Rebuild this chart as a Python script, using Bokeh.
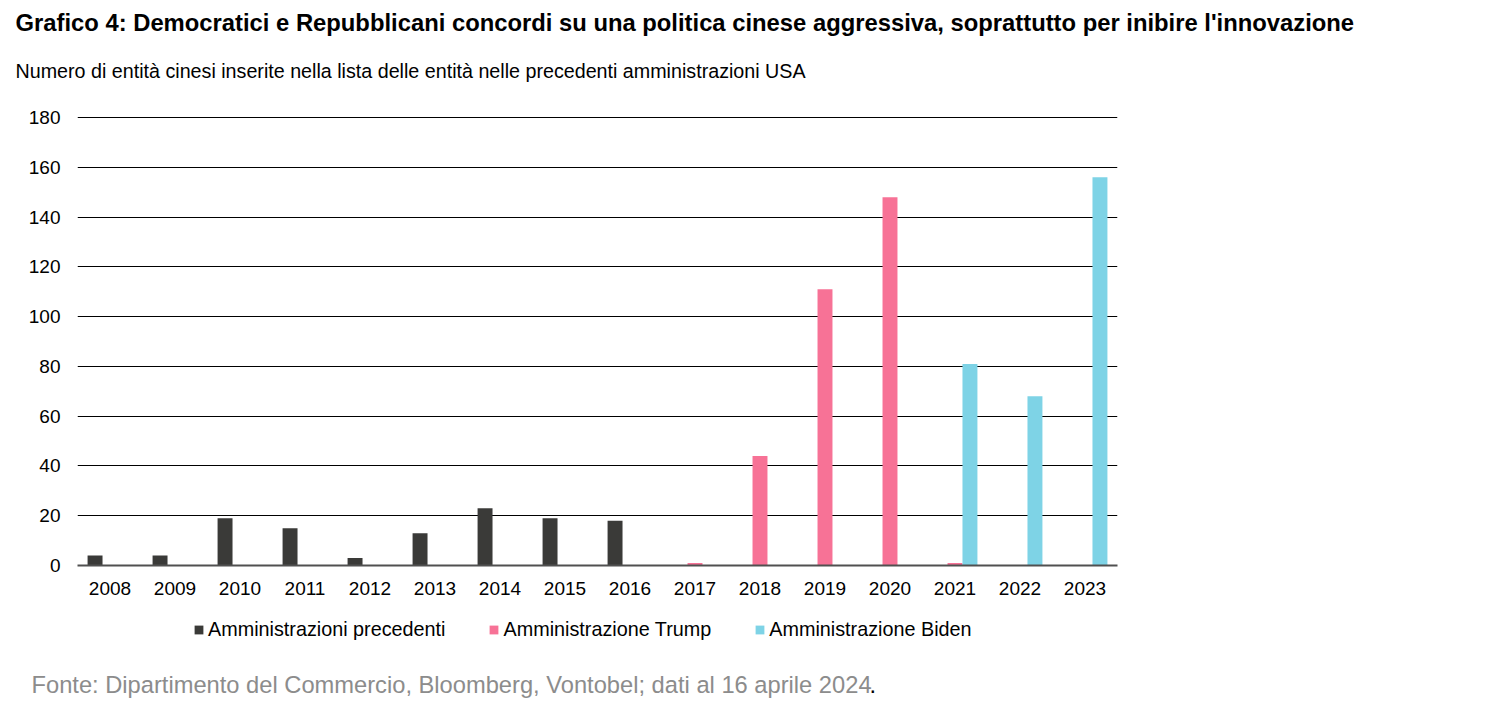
from bokeh.plotting import figure
from bokeh.models import Legend, LegendItem, FactorRange, ColumnDataSource, FixedTicker, Label, Range1d
from bokeh.transform import dodge
from bokeh.embed import file_html
from bokeh.resources import INLINE

years = [str(y) for y in range(2008, 2024)]
precedenti = [4, 4, 19, 15, 3, 13, 23, 19, 18, 0, 0, 0, 0, 0, 0, 0]
trump = [0, 0, 0, 0, 0, 0, 0, 0, 0, 1, 44, 111, 148, 1, 0, 0]
biden = [0, 0, 0, 0, 0, 0, 0, 0, 0, 0, 0, 0, 0, 81, 68, 156]
y_ticks = [0, 20, 40, 60, 80, 100, 120, 140, 160, 180]

title_text = "Grafico 4: Democratici e Repubblicani concordi su una politica cinese aggressiva, soprattutto per inibire l'innovazione"
subtitle_text = "Numero di entità cinesi inserite nella lista delle entità nelle precedenti amministrazioni USA"
source_text = "Fonte: Dipartimento del Commercio, Bloomberg, Vontobel; dati al 16 aprile 2024"
names = ["Amministrazioni precedenti", "Amministrazione Trump", "Amministrazione Biden"]
colors = ["#3a3a38", "#f77296", "#7ed3e6"]

FONT = "Liberation Sans"
W = 1440


def blank(height, top):
    """A figure whose frame fills the canvas; data units equal page pixels."""
    f = figure(width=W, height=height, x_range=Range1d(0, W), y_range=Range1d(top + height, top),
               x_axis_type=None, y_axis_type=None, output_backend="svg", toolbar_location=None,
               min_border=0, title=None)
    f.grid.visible = False
    f.outline_line_color = None
    return f


# ---- header ----
top = blank(100, 0)
top.add_layout(Label(x=15, y=22, text=title_text, text_font=FONT, text_font_size="23.8px",
                     text_font_style="bold", text_color="black", text_baseline="alphabetic"))
top.add_layout(Label(x=15, y=70, text=subtitle_text, text_font=FONT, text_font_size="19.7px",
                     text_color="black", text_baseline="alphabetic"))

# ---- main chart ----
src = ColumnDataSource(dict(years=years, precedenti=precedenti, trump=trump, biden=biden))
MH = 505
p = figure(width=W, height=MH, x_range=FactorRange(*years), y_range=(0, 180.4),
           output_backend="svg", toolbar_location=None, title=None,
           min_border_left=77, min_border_right=W - 77 - 1040,
           min_border_top=16, min_border_bottom=40)
p.outline_line_color = None

bw = 0.23
p.vbar(x=dodge("years", -bw, range=p.x_range), top="precedenti", width=bw, source=src,
       fill_color=colors[0], line_color=None)
p.vbar(x=dodge("years", 0, range=p.x_range), top="trump", width=bw, source=src,
       fill_color=colors[1], line_color=None)
p.vbar(x=dodge("years", bw, range=p.x_range), top="biden", width=bw, source=src,
       fill_color=colors[2], line_color=None)

p.xgrid.grid_line_color = None
p.ygrid.grid_line_color = "black"
p.ygrid.grid_line_width = 1
p.ygrid.ticker = FixedTicker(ticks=y_ticks)
p.yaxis.ticker = FixedTicker(ticks=y_ticks)

p.yaxis.axis_line_color = None
p.yaxis.major_tick_line_color = None
p.yaxis.minor_tick_line_color = None
p.yaxis.major_tick_out = 0
p.yaxis.major_label_standoff = 17
p.yaxis.major_label_text_font = FONT
p.yaxis.major_label_text_font_size = "19px"
p.yaxis.major_label_text_color = "black"

p.xaxis.axis_line_color = "#505050"
p.xaxis.axis_line_width = 2
p.xaxis.major_tick_line_color = None
p.xaxis.minor_tick_line_color = None
p.xaxis.major_tick_out = 0
p.xaxis.major_label_standoff = 16
p.xaxis.major_label_text_font = FONT
p.xaxis.major_label_text_font_size = "19px"
p.xaxis.major_label_text_color = "black"

# ---- footer: legend + source ----
BT = 100 + MH
BH = 105
bot = blank(BH, BT)
# legend swatches (zero-height proxies, nothing visible is drawn by them)
lr = [bot.vbar(x=[0], top=[0], bottom=[0], width=0, fill_color=c, line_color=None) for c in colors]
legend = Legend(items=[LegendItem(label=n, renderers=[r]) for n, r in zip(names, lr)],
                location=(193, (BT + BH) - 641), orientation="horizontal",
                padding=0, margin=0, spacing=43, label_standoff=4,
                glyph_width=11, glyph_height=11, label_height=20,
                label_text_font=FONT, label_text_font_size="19.8px", label_text_color="black",
                border_line_color=None, background_fill_alpha=0)
bot.add_layout(legend, "center")
bot.add_layout(Label(x=31, y=684, text=source_text, text_font=FONT, text_font_size="23.7px",
                     text_color="#8c8c8c", text_baseline="alphabetic"))
bot.add_layout(Label(x=869, y=684, text=".", text_font=FONT, text_font_size="23.7px",
                     text_color="black", text_baseline="alphabetic"))

open("out.html", "w").write(file_html([top, p, bot], INLINE))
